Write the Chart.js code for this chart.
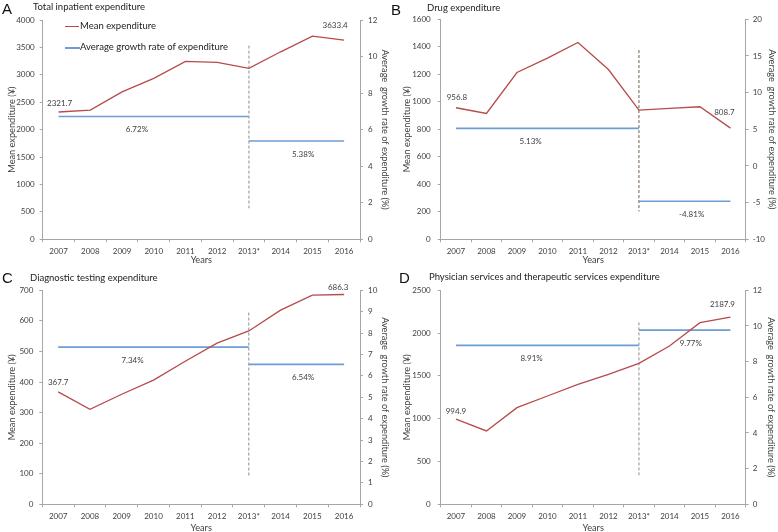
<!DOCTYPE html>
<html>
<head>
<meta charset="utf-8">
<script src="https://cdn.jsdelivr.net/npm/chart.js@4.4.1/dist/chart.umd.min.js"></script>
<style>
  body { margin: 0; background: #fff; overflow: hidden; font-family: Lato, sans-serif; }
  #wrap { position: relative; width: 778px; height: 532px; overflow: hidden; }
  canvas { position: absolute; }
  .letter { position: absolute; font-family: "Liberation Sans", Arial, sans-serif; font-size: 15px; line-height: 15px; color: #111; }
  .ttl { position: absolute; font-size: 9.5px; line-height: 11px; color: #222; white-space: nowrap; }
  .key { position: absolute; height: 0; }
</style>
</head>
<body>
<div id="wrap">
  <canvas id="chartA"></canvas>
  <canvas id="chartB"></canvas>
  <canvas id="chartC"></canvas>
  <canvas id="chartD"></canvas>

  <div class="letter" style="left:2px;top:1px">A</div>
  <div class="ttl" style="left:33px;top:1px">Total inpatient expenditure</div>
  <div class="letter" style="left:391px;top:2px">B</div>
  <div class="ttl" style="left:427px;top:2px">Drug expenditure</div>
  <div class="letter" style="left:2px;top:270px">C</div>
  <div class="ttl" style="left:30px;top:272px">Diagnostic testing expenditure</div>
  <div class="letter" style="left:399px;top:270px">D</div>
  <div class="ttl" style="left:429px;top:271px">Physician services and therapeutic services expenditure</div>

  <div class="key" style="left:65px;top:26px;width:14px;border-top:1.5px solid #b84a4b"></div>
  <div class="ttl" style="left:80px;top:20px">Mean expenditure</div>
  <div class="key" style="left:65px;top:47px;width:15px;border-top:2px solid #6d9dd4"></div>
  <div class="ttl" style="left:80px;top:41px">Average growth rate of expenditure</div>
</div>

<script>
// data
const years = ["2007", "2008", "2009", "2010", "2011", "2012", "2013*", "2014", "2015", "2016"];

const meanTotal = [2321.7, 2355, 2690, 2935, 3244, 3226, 3117, 3420, 3706, 3633.4];
const meanDrug  = [956.8, 915, 1213, 1318, 1431, 1235, 939, 952, 964, 808.7];
const meanTest  = [367.7, 311, 360, 406, 468, 527, 567, 635, 684, 686.3];
const meanPhys  = [994.9, 857, 1129, 1265, 1402, 1519, 1647, 1850, 2122, 2187.9];

// average growth rate before / after 2013 (%)
const growthTotal = [6.72, 5.38];
const growthDrug  = [5.13, -4.81];
const growthTest  = [7.34, 6.54];
const growthPhys  = [8.91, 9.77];

// vertical 2013 marker, top and bottom on the right axis
const cutTotal = [10.6, 1.7];
const cutDrug  = [15.8, -6.2];
const cutTest  = [8.96, 1.25];
const cutPhys  = [10.2, 1.63];

// axis ranges [min, max, step]
const leftTotal = [0, 4000, 500],  rightTotal = [0, 12, 2];
const leftDrug  = [0, 1600, 200],  rightDrug  = [-10, 20, 5];
const leftTest  = [0, 700, 100],   rightTest  = [0, 10, 1];
const leftPhys  = [0, 2500, 500],  rightPhys  = [0, 12, 2];

const RED = "#b84a4b";
const BLUE = "#6d9dd4";
const AXIS = "#a6a6a6";
const TXT = "#404040";
const tickFont = { family: "Lato", size: 8 };
const titleFont = { family: "Lato", size: 9.2, lineHeight: 1.2 };

const valueLabels = {
  id: "valueLabels",
  afterDatasetsDraw(chart, args, o) {
    const { ctx, scales } = chart;
    const mean = chart.data.datasets[0].data;
    ctx.save();
    ctx.fillStyle = TXT;
    ctx.font = "8px Lato";
    ctx.textAlign = "center";
    ctx.textBaseline = "middle";
    [0, mean.length - 1].forEach((i, k) => {
      const x = scales.x.getPixelForValue(i) + o.valueOff[k][0];
      const y = scales.y.getPixelForValue(mean[i]) + o.valueOff[k][1];
      ctx.fillText(mean[i].toFixed(1), x, y);
    });
    o.growth.forEach((g, k) => {
      const x = scales.x.getPixelForValue(o.growthAt[k]);
      const y = scales.y1.getPixelForValue(g) + 13;
      ctx.fillText(g.toFixed(2) + "%", x, y);
    });
    ctx.restore();
  }
};

function makeChart(id, p) {
  const cv = document.getElementById(id);
  const [bx, by, bw, bh] = p.box;
  const [l, t, r, b] = p.area;
  cv.width = bw; cv.height = bh;
  cv.style.left = bx + "px"; cv.style.top = by + "px";
  cv.style.width = bw + "px"; cv.style.height = bh + "px";

  const axisGrid = { drawOnChartArea: false, tickLength: 3, color: AXIS };

  new Chart(cv, {
    type: "line",
    data: {
      labels: years,
      datasets: [
        { label: "Mean expenditure", data: p.mean, borderColor: RED, borderWidth: 1.3, yAxisID: "y" },
        { label: "Average growth rate of expenditure",
          data: [{ x: years[0], y: p.growth[0] }, { x: "2013*", y: p.growth[0] }],
          borderColor: BLUE, borderWidth: 1.7, yAxisID: "y1" },
        { data: [{ x: "2013*", y: p.growth[1] }, { x: years[years.length - 1], y: p.growth[1] }],
          borderColor: BLUE, borderWidth: 1.7, yAxisID: "y1" },
        { data: [{ x: "2013*", y: p.cut[0] }, { x: "2013*", y: p.cut[1] }],
          borderColor: p.dash, borderWidth: 1, borderDash: [3, 2], yAxisID: "y1" }
      ]
    },
    options: {
      responsive: false,
      animation: false,
      devicePixelRatio: 1,
      layout: { padding: { top: t - by, left: 0, right: 0, bottom: 0 } },
      elements: { point: { radius: 0 }, line: { tension: 0 } },
      plugins: {
        legend: { display: false },
        tooltip: { enabled: false },
        valueLabels: { valueOff: p.valueOff, growth: p.growth, growthAt: p.growthAt }
      },
      scales: {
        x: {
          type: "category",
          offset: true,
          grid: { ...axisGrid, offset: true },
          border: { color: AXIS },
          ticks: { font: tickFont, color: TXT, padding: 4, maxRotation: 0, autoSkip: false },
          title: { display: true, text: "Years", font: titleFont, color: TXT, padding: { top: 0, bottom: p.pad[2] } },
          afterFit: s => { s.height = by + bh - b; }
        },
        y: {
          position: "left",
          min: p.left[0], max: p.left[1],
          grid: axisGrid,
          border: { color: AXIS },
          ticks: { stepSize: p.left[2], font: tickFont, color: TXT, padding: p.tickPad[0], callback: v => String(v) },
          title: { display: true, text: "Mean expenditure (¥)", font: titleFont, color: TXT, padding: { top: p.pad[0], bottom: 0 } },
          afterFit: s => { s.width = l - bx; }
        },
        y1: {
          position: "right",
          min: p.right[0], max: p.right[1],
          grid: axisGrid,
          border: { color: AXIS },
          ticks: { stepSize: p.right[2], font: tickFont, color: TXT, padding: p.tickPad[1], callback: v => String(v) },
          title: { display: true, text: "Average  growth rate of expenditure (%)", font: titleFont, color: TXT, padding: { top: p.pad[1], bottom: 0 } },
          afterFit: s => { s.width = bx + bw - r; }
        }
      }
    },
    plugins: [valueLabels]
  });
}

makeChart("chartA", {
  box: [0, 0, 392, 268], area: [42.7, 20, 360, 239.3],
  mean: meanTotal, growth: growthTotal, cut: cutTotal, left: leftTotal, right: rightTotal,
  dash: "#8c8c8c", pad: [6.2, 1.2, 2.2], tickPad: [5, 5],
  valueOff: [[1, -9], [-9, -15]], growthAt: [2.47, 7.71]
});
makeChart("chartB", {
  box: [389, 0, 389, 268], area: [440.7, 19.3, 745.7, 239.3],
  mean: meanDrug, growth: growthDrug, cut: cutDrug, left: leftDrug, right: rightDrug,
  dash: "#6e5c48", pad: [12.5, 0.5, 2.2], tickPad: [7, 4],
  valueOff: [[1, -10], [-6, -16]], growthAt: [2.45, 7.73]
});
makeChart("chartC", {
  box: [0, 266, 392, 268], area: [42.3, 290.3, 360, 504.3],
  mean: meanTest, growth: growthTest, cut: cutTest, left: leftTest, right: rightTest,
  dash: "#8c8c8c", pad: [6.9, 1.2, 0], tickPad: [6, 5],
  valueOff: [[0, -9], [-6, -7]], growthAt: [2.34, 7.71]
});
makeChart("chartD", {
  box: [389, 266, 389, 268], area: [440.7, 290.3, 745.7, 504.3],
  mean: meanPhys, growth: growthPhys, cut: cutPhys, left: leftPhys, right: rightPhys,
  dash: "#8c8c8c", pad: [12.5, 1.5, 0], tickPad: [7, 4],
  valueOff: [[0, -8], [-8, -13]], growthAt: [2.48, 7.7]
});
</script>
</body>
</html>
